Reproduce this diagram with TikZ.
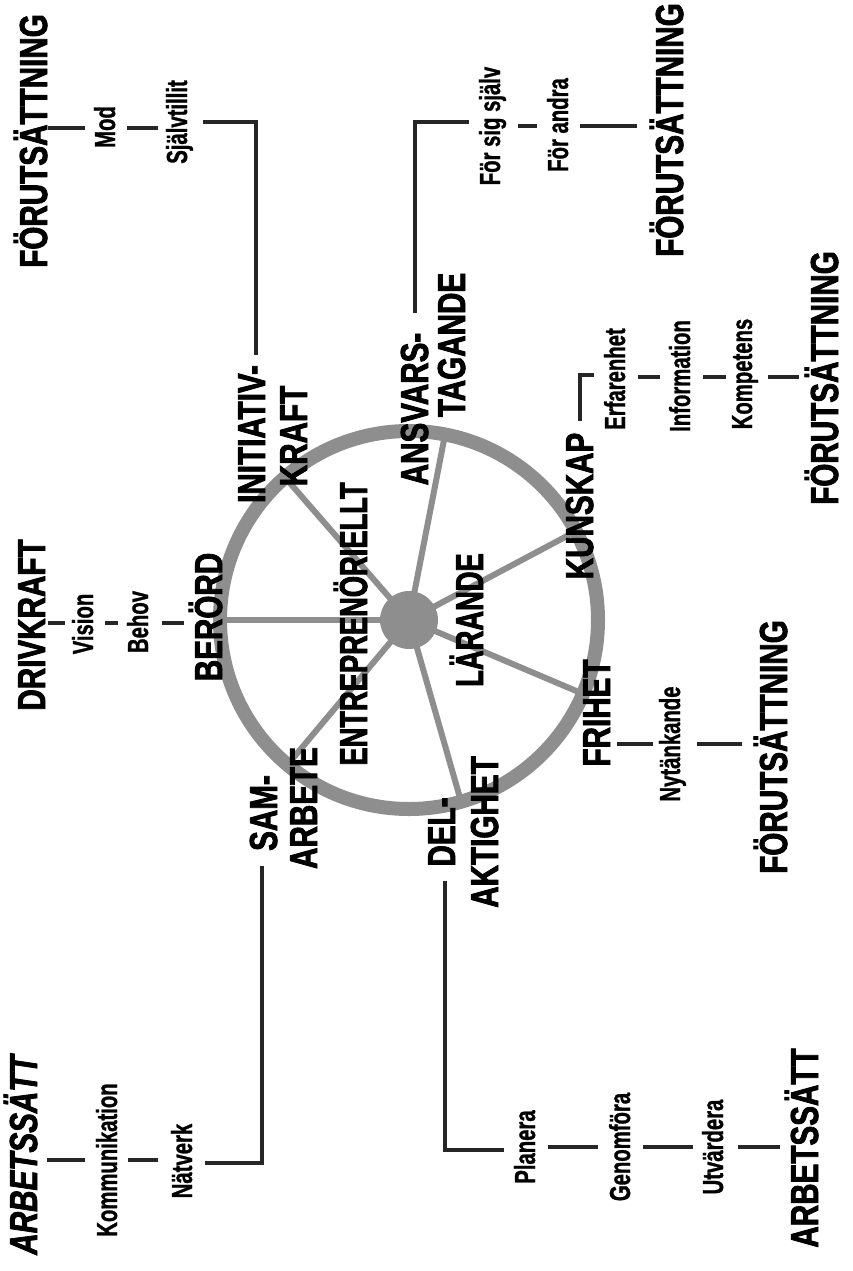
\documentclass[tikz,border=0pt]{standalone}
\usepackage{fontspec}
\newfontfamily\bigf[FakeStretch=0.76, FakeBold=2]{Liberation Sans Bold}
\newfontfamily\bigif[FakeStretch=0.76, FakeBold=2]{Liberation Sans Bold Italic}
\newfontfamily\bigcf[FakeStretch=0.70, FakeBold=2]{Liberation Sans Bold}
\newfontfamily\smallf[FakeStretch=0.70, FakeBold=1]{Liberation Sans Bold}
\definecolor{wheel}{HTML}{8E8E8E}
\definecolor{ink}{HTML}{262626}
\begin{document}
\begin{tikzpicture}[x=1pt,y=-1pt,
  lab/.style={rotate=90, inner sep=0pt, outer sep=0pt, anchor=base, text=black},
  big/.style={lab, font={\bigf\fontsize{39pt}{44pt}\selectfont}},
  bigc/.style={lab, font={\bigcf\fontsize{39pt}{44pt}\selectfont}},
  bigi/.style={lab, font={\bigif\fontsize{39pt}{44pt}\selectfont}},
  small/.style={lab, font={\smallf\fontsize{29pt}{32pt}\selectfont}},
  link/.style={draw=ink, line width=4.5pt},
  spoke/.style={draw=wheel, line width=6pt}]
\useasboundingbox[fill=white] (0,0) rectangle (852,1271);

% wheel
\node[circle, draw=wheel, line width=14pt, minimum size=378pt, inner sep=0pt, outer sep=0pt] (rim) at (409,620) {};
\foreach \a in {180,131,79,28,-23,-74,-130} \draw[spoke] (rim.center) -- (rim.\a);
\node[circle, fill=wheel, minimum size=58pt, inner sep=0pt, outer sep=0pt] (hub) at (409,620) {};

% labels
\node[big] (f1) at (47,141) {FÖRUTSÄTTNING};
\node[small] (mod) at (115,127) {Mod};
\node[small] (sjalv) at (187,122) {Självtillit};
\node[big] (init) at (265,434) {INITIATIV-};
\node[big] (kraft) at (307,436) {KRAFT};
\node[big] (ansv) at (428,409) {ANSVARS-};
\node[big] (tag) at (465,345) {TAGANDE};
\node[small] (forsig) at (500,126) {För sig själv};
\node[small] (forandra) at (568,125) {För andra};
\node[big] (f2) at (683,130) {FÖRUTSÄTTNING};
\node[big] (kunskap) at (593,506) {KUNSKAP};
\node[small] (erf) at (625,379) {Erfarenhet};
\node[small] (info) at (690,376) {Information};
\node[small] (komp) at (752,374) {Kompetens};
\node[big] (f3) at (838,378) {FÖRUTSÄTTNING};
\node[big] (frihet) at (610,713) {FRIHET};
\node[small] (nyt) at (680,744) {Nytänkande};
\node[big] (f4) at (787,747) {FÖRUTSÄTTNING};
\node[big] (drive) at (45,625) {DRIVKRAFT};
\node[small] (vision) at (93,624) {Vision};
\node[small] (behov) at (148,622) {Behov};
\node[big] (berord) at (222,617) {BERÖRD};
\node[big] (sam) at (277,813) {SAM-};
\node[big] (arbete) at (317,808) {ARBETE};
\node[big] (del) at (455,832) {DEL-};
\node[big] (aktighet) at (498,832) {AKTIGHET};
\node[bigc] (entre) at (367,624) {ENTREPRENÖRIELLT};
\node[bigc] (larande) at (483,620) {LÄRANDE};
\node[bigi] (arb1) at (37,1155) {ARBETSSÄTT};
\node[small] (komm) at (117,1160) {Kommunikation};
\node[small] (natverk) at (192,1161) {Nätverk};
\node[small] (planera) at (535,1147) {Planera};
\node[small] (genom) at (630,1147) {Genomföra};
\node[small] (utv) at (723,1147) {Utvärdera};
\node[big] (arb2) at (818,1148) {ARBETSSÄTT};

% row levels and corners
\coordinate (rowTL) at (0,128);
\coordinate (rowTR) at (0,126);
\coordinate (rowR) at (0,377);
\coordinate (rowRB) at (0,744);
\coordinate (rowL) at (0,623);
\coordinate (rowBL) at (0,1160);
\coordinate (rowBR) at (0,1147);
\coordinate (c1) at (256,122);
\coordinate (t1) at (415,122);
\coordinate (k1) at (580,375);
\coordinate (s1) at (262,1163);
\coordinate (d1) at (445,1150);

% top-left
\draw[link, shorten <=1pt, shorten >=9pt] (f1.south |- rowTL) -- (mod.north |- rowTL);
\draw[link, shorten <=12pt, shorten >=8pt] (mod.south |- rowTL) -- (sjalv.north |- rowTL);
\draw[link, shorten <=10pt, shorten >=10pt] (sjalv.south |- c1) -- (c1) -- (c1 |- init.east);
% top-right
\draw[link, shorten <=20pt, shorten >=10pt] (ansv.east -| t1) -- (t1) -- (t1 -| forsig.north);
\draw[link, shorten <=12pt, shorten >=10pt] (forsig.south |- rowTR) -- (forandra.north |- rowTR);
\draw[link, shorten <=12pt, shorten >=13pt] (forandra.south |- rowTR) -- (f2.north |- rowTR);
% right
\draw[link, shorten <=12pt, shorten >=10pt] (kunskap.east -| k1) -- (k1) -- (k1 -| erf.north);
\draw[link, shorten <=13pt, shorten >=9pt] (erf.south |- rowR) -- (info.north |- rowR);
\draw[link, shorten <=13pt, shorten >=6pt] (info.south |- rowR) -- (komp.north |- rowR);
\draw[link, shorten <=10pt, shorten >=6pt] (komp.south |- rowR) -- (f3.north |- rowR);
% right-bottom
\draw[link, shorten <=7pt, shorten >=6pt] (frihet.south |- rowRB) -- (nyt.north |- rowRB);
\draw[link, shorten <=11pt, shorten >=12pt] (nyt.south |- rowRB) -- (f4.north |- rowRB);
% left
\draw[link, shorten <=3pt, shorten >=7pt] (drive.south |- rowL) -- (vision.north |- rowL);
\draw[link, shorten <=12pt, shorten >=9pt] (vision.south |- rowL) -- (behov.north |- rowL);
\draw[link, shorten <=14pt, shorten >=5pt] (behov.south |- rowL) -- (berord.north |- rowL);
% bottom-left
\draw[link, shorten <=15pt, shorten >=13pt] (sam.west -| s1) -- (s1) -- (s1 -| natverk.south);
\draw[link, shorten <=10pt, shorten >=11pt] (arb1.south |- rowBL) -- (komm.north |- rowBL);
\draw[link, shorten <=11pt, shorten >=13pt] (komm.south |- rowBL) -- (natverk.north |- rowBL);
% bottom-right
\draw[link, shorten <=14pt, shorten >=10pt] (del.west -| d1) -- (d1) -- (d1 -| planera.north);
\draw[link, shorten <=13pt, shorten >=11pt] (planera.south |- rowBR) -- (genom.north |- rowBR);
\draw[link, shorten <=13pt, shorten >=9pt] (genom.south |- rowBR) -- (utv.north |- rowBR);
\draw[link, shorten <=15pt, shorten >=5pt] (utv.south |- rowBR) -- (arb2.north |- rowBR);
\end{tikzpicture}
\end{document}
